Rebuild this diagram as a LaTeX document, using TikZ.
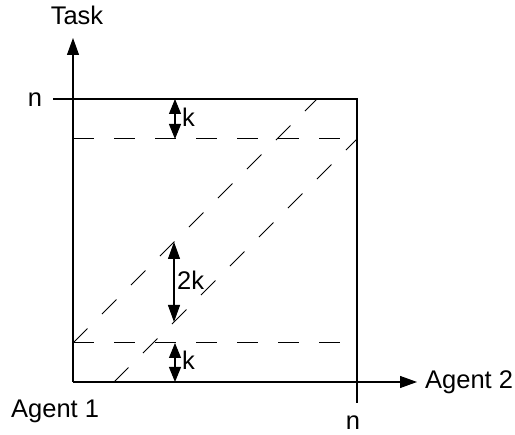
\documentclass[tikz,border=0pt]{standalone}
\usepackage{fontspec}
\setmainfont{Liberation Sans}
\usetikzlibrary{arrows.meta}
\begin{document}
\begin{tikzpicture}[x=1pt,y=-1pt,
  lbl/.style={inner sep=0pt,font=\fontsize{25.5}{30}\selectfont},
  axisline/.style={line width=1.1pt,-{Triangle[length=17pt,width=12pt]}},
  frameline/.style={line width=1.1pt},
  dashline/.style={line width=1pt,dash pattern=on 20.5pt off 20.5pt},
  karrow/.style={line width=1.1pt,{Triangle[length=15pt,width=12pt]}-{Triangle[length=15pt,width=12pt]}},
  bigarrow/.style={line width=1.1pt,{Triangle[length=17pt,width=12pt]}-{Triangle[length=17pt,width=12pt]}}]
\useasboundingbox (0,0) rectangle (515,435);
% coordinates
\coordinate (O) at (73,382);
\coordinate (ytip) at (73,38);
\coordinate (xtip) at (417,382);
\coordinate (tl) at (53,99);
\coordinate (tr) at (357,99);
\coordinate (rb) at (357,403);
\coordinate (hk1a) at (73,139);
\coordinate (hk1b) at (357,139);
\coordinate (hk2a) at (73,343);
\coordinate (hk2b) at (357,343);
\coordinate (d1a) at (73,343);
\coordinate (d1b) at (317,99);
\coordinate (d2a) at (114,382);
\coordinate (d2b) at (357,139);
\coordinate (ka1) at (175,99);
\coordinate (ka2) at (175,139);
\coordinate (kb1) at (175,343);
\coordinate (kb2) at (175,382);
\coordinate (kk1) at (174,242);
\coordinate (kk2) at (174,322);
% axes and frame
\draw[axisline] (O) -- (ytip);
\draw[axisline] (O) -- (xtip);
\draw[frameline] (tl) -- (tr) -- (rb);
% dashed
\draw[dashline] (hk1a) -- (hk1b);
\draw[dashline] (hk2a) -- (hk2b);
\draw[dashline] (d1a) -- (d1b);
\draw[dashline] (d2a) -- (d2b);
% arrows
\draw[karrow] (ka1) -- (ka2);
\draw[karrow] (kb1) -- (kb2);
\draw[bigarrow] (kk1) -- (kk2);
% labels
\node[lbl,anchor=base] (task) at (77,25) {Task};
\node[lbl,anchor=base] (nl) at (35,107) {n};
\node[lbl,anchor=base west] (k1) at (182,127) {k};
\node[lbl,anchor=base west] (k2) at (182,370) {k};
\node[lbl,anchor=base west] (k3) at (177,290) {2k};
\node[lbl,anchor=base west] (ag2) at (425,389) {Agent 2};
\node[lbl,anchor=base west] (ag1) at (11,418) {Agent 1};
\node[lbl,anchor=base] (nb) at (353,430) {n};
\end{tikzpicture}
\end{document}
